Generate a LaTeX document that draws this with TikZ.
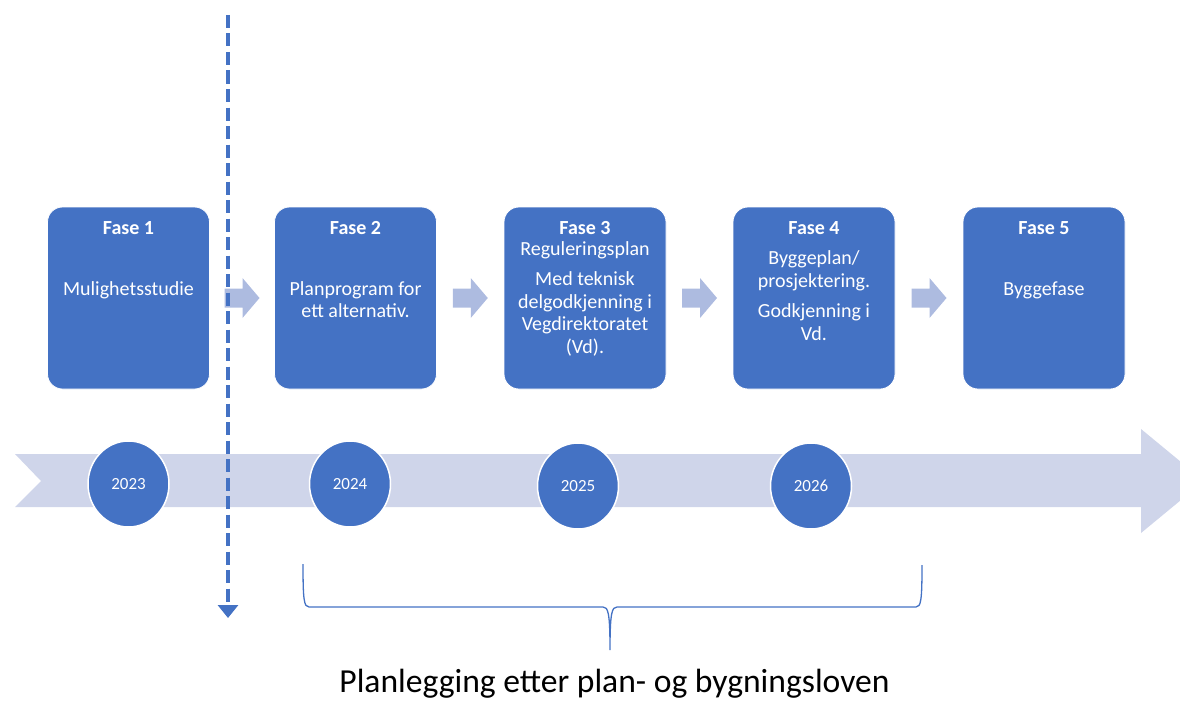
\documentclass[tikz,border=0pt]{standalone}
\usepackage{fontspec}
\setmainfont{Carlito}
\usetikzlibrary{arrows.meta,calc,shapes.geometric}
\definecolor{acc}{HTML}{4472C4}
\definecolor{band}{HTML}{CFD5EA}
\definecolor{sarr}{HTML}{ADBBE0}
\begin{document}
\begin{tikzpicture}[x=1pt,y=-1pt,
  phase/.style={draw=white,line width=0.8pt,fill=acc,rounded corners=15pt,
    minimum width=162pt,minimum height=182pt,inner sep=0pt},
  ttl/.style={font=\fontsize{20}{23}\selectfont\bfseries,text=white,anchor=base,inner sep=0pt},
  body/.style={font=\fontsize{20}{22.5}\selectfont,text=white,anchor=base,inner sep=0pt,align=center},
  yearnode/.style={ellipse,draw=white,line width=1.5pt,fill=acc,minimum width=81pt,
    minimum height=86pt,inner sep=0pt,text=white,font=\fontsize{17}{20}\selectfont},
  sarrow/.pic={\fill[sarr] (-17.5,-9.5) -- (0.5,-9.5) -- (0.5,-20) -- (17.5,0) -- (0.5,20) -- (0.5,9.5) -- (-17.5,9.5) -- cycle;},
  bracepath/.style={draw=acc,line width=1.3pt},
  cutline/.style={draw=acc,line width=4.5pt,dash pattern=on 13pt off 5.5pt,
    -{Triangle[width=20pt,length=13pt]}}
]
\useasboundingbox (0,0) rectangle (1180,701);
\clip (0,0) rectangle (1180,701);

% timeline band
\fill[band] (15,454) -- (1141,454) -- (1141,429) -- (1204,481) -- (1141,533)
  -- (1141,507) -- (15,507) -- (41,481) -- cycle;

% year circles
\node[yearnode] (y1) at (128.5,484) {2023};
\node[yearnode] (y2) at (350,484) {2024};
\node[yearnode] (y3) at (578,486) {2025};
\node[yearnode] (y4) at (811,486) {2026};

% phase boxes
\node[phase] (b1) at (128.5,298) {};
\node[phase] (b2) at (355.5,298) {};
\node[phase] (b3) at (585,298) {};
\node[phase] (b4) at (814,298) {};
\node[phase] (b5) at (1044,298) {};

\node[ttl] (t1) at (128.5,234) {Fase 1};
\node[ttl] (t2) at (355.5,234) {Fase 2};
\node[ttl] (t3) at (585,234) {Fase 3};
\node[ttl] (t4) at (814,234) {Fase 4};
\node[ttl] (t5) at (1044,234) {Fase 5};

% (multi-line nodes: base anchor = last line's baseline)
\node[body] (d1) at (128.5,295.7) {Mulighetsstudie};
\node[body] (d2) at (355.5,317.7) {Planprogram for\\ett alternativ.};
\node[body] (d3a) at (585,255) {Reguleringsplan};
\node[body] (d3b) at (585,353) {Med teknisk\\delgodkjenning i\\Vegdirektoratet\\(Vd).};
\node[body] (d4a) at (814,287) {Byggeplan/\\prosjektering.};
\node[body] (d4b) at (814,340) {Godkjenning i\\Vd.};
\node[body] (d5) at (1044,295.7) {Byggefase};

% small arrows between phases
\pic at ($(b1.east)!0.5!(b2.west)$) {sarrow};
\pic at ($(b2.east)!0.5!(b3.west)$) {sarrow};
\pic at ($(b3.east)!0.5!(b4.west)$) {sarrow};
\pic at ($(b4.east)!0.5!(b5.west)$) {sarrow};

% brace
\coordinate (bl) at (303,564);
\coordinate (bm) at (610,650);
\coordinate (br) at (922,565);
\draw[bracepath] (bl) .. controls (303,600) and (304,607) .. (309,607) -- (603,607)
  .. controls (608,607) and (610,612) .. (bm)
  .. controls (610,612) and (612,607) .. (617,607) -- (916,607)
  .. controls (921,607) and (922,600) .. (br);
\node[font=\fontsize{33.6}{38}\selectfont,anchor=base,inner sep=0pt] (lbl) at (614.5,692)
  {Planlegging etter plan- og bygningsloven};

% dashed cut line
\coordinate (ctop) at (228,15);
\coordinate (cbot) at (228,618);
\draw[cutline] (ctop) -- (cbot);
\end{tikzpicture}
\end{document}
